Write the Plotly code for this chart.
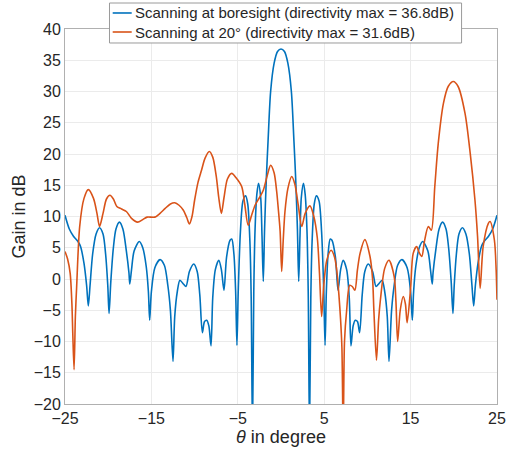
import plotly.graph_objects as go

# Boresight scan (blue)
blue_theta = [-25.0, -24.5, -24.0, -23.5, -23.2, -22.8, -22.5, -22.3, -22.1, -21.8, -21.4, -21.0,
              -20.6, -20.3, -20.05, -19.9, -19.7, -19.4, -19.1, -18.7, -18.3, -17.9, -17.6, -17.5,
              -17.3, -17.0, -16.4, -16.0, -15.6, -15.35, -15.2, -15.0, -14.6, -14.0, -13.5, -13.1,
              -12.8, -12.5, -12.3, -12.0, -11.7, -11.3, -11.0, -10.6, -10.1, -9.7, -9.4, -9.1,
              -8.85, -8.6, -8.35, -8.1, -7.9, -7.6, -7.2, -6.9, -6.6, -6.3, -5.9, -5.7,
              -5.45, -5.25, -5.1, -4.95, -4.7, -4.4, -4.1, -3.85, -3.6, -3.45, -3.3, -3.15,
              -3.0, -2.8, -2.6, -2.35, -2.2, -2.05, -1.9, -1.7, -1.5, -1.2, -0.8, -0.4, 0.0,
              0.4, 0.8, 1.2, 1.5, 1.7, 1.9, 2.05, 2.2, 2.35, 2.6, 2.8, 3.0,
              3.15, 3.3, 3.45, 3.6, 3.85, 4.1, 4.4, 4.7, 4.95, 5.1, 5.25, 5.45,
              5.7, 5.9, 6.3, 6.6, 6.9, 7.2, 7.6, 7.9, 8.1, 8.35, 8.6, 8.85,
              9.1, 9.4, 9.7, 10.1, 10.6, 11.0, 11.3, 11.7, 12.0, 12.3, 12.5, 12.8,
              13.1, 13.5, 14.0, 14.6, 15.0, 15.2, 15.35, 15.6, 16.0, 16.4, 17.0, 17.3,
              17.5, 17.6, 17.9, 18.3, 18.7, 19.1, 19.4, 19.7, 19.9, 20.05, 20.3, 20.6,
              21.0, 21.4, 21.8, 22.1, 22.3, 22.5, 22.8, 23.2, 23.5, 24.0, 24.5, 25.0]
blue_gain = [10.2, 8.0, 6.8, 6.0, 5.2, 2.5, -1.0, -4.3, -1.0, 4.0, 7.2, 8.2,
             7.2, 4.0, -1.0, -5.5, -0.5, 5.0, 8.0, 9.1, 8.0, 4.5, 1.0, -0.8,
             1.5, 4.5, 6.0, 5.0, 2.0, -2.0, -6.6, -2.0, 1.8, 3.1, 2.2, -1.0,
             -5.0, -13.2, -6.0, -2.0, -0.2, -0.8, -1.2, 1.2, 2.4, 1.2, -2.5, -8.6,
             -6.8, -6.6, -7.5, -10.7, -3.0, 1.5, 3.0, 1.5, -1.8, 3.5, 6.2, 6.4,
             4.0, -2.0, -10.6, -2.0, 7.5, 12.5, 13.3, 12.0, 6.0, -3.0, -25.0, -2.0,
             8.0, 13.5, 15.3, 13.0, 7.0, -0.4, 8.0, 16.0, 22.0, 30.0, 34.5, 36.4, 36.8,
             36.4, 34.5, 30.0, 22.0, 16.0, 8.0, -0.4, 7.0, 13.0, 15.3, 13.5, 8.0,
             -2.0, -25.0, -3.0, 6.0, 12.0, 13.3, 12.5, 7.5, -2.0, -10.6, -2.0, 4.0,
             6.4, 6.2, 3.5, -1.8, 1.5, 3.0, 1.5, -3.0, -10.7, -7.5, -6.6, -6.8,
             -8.6, -2.5, 1.2, 2.4, 1.2, -1.2, -0.8, -0.2, -2.0, -6.0, -13.2, -5.0,
             -1.0, 2.2, 3.1, 1.8, -2.0, -6.6, -2.0, 2.0, 5.0, 6.0, 4.5, 1.5,
             -0.8, 1.0, 4.5, 8.0, 9.1, 8.0, 5.0, -0.5, -5.5, -1.0, 4.0, 7.2,
             8.2, 7.2, 4.0, -1.0, -4.3, -1.0, 2.5, 5.2, 6.0, 6.8, 8.0, 10.2]

# 20 degree scan (orange)
orange_theta = [-25.0, -24.7, -24.4, -24.2, -24.1, -23.95, -23.8, -23.65, -23.3, -22.8, -22.3, -21.7,
                -21.3, -21.0, -20.6, -20.2, -19.8, -19.4, -19.0, -18.45, -17.9, -17.3, -16.6, -16.0,
                -15.5, -14.6, -14.0, -13.4, -12.8, -12.3, -11.8, -11.3, -10.9, -10.6, -10.3, -10.0,
                -9.6, -9.2, -8.8, -8.3, -7.9, -7.5, -7.2, -6.9, -6.6, -6.2, -5.7, -5.2,
                -4.55, -4.2, -3.8, -3.4, -3.0, -2.5, -2.05, -1.6, -1.2, -0.8, -0.5, -0.3,
                -0.1, 0.08, 0.25, 0.46, 0.8, 1.24, 1.6, 2.0, 2.4, 2.8, 3.35, 3.8,
                4.2, 4.45, 4.7, 4.95, 5.3, 5.8, 6.2, 6.45, 6.7, 6.9, 7.05, 7.2,
                7.35, 7.6, 7.95, 8.25, 8.55, 8.85, 9.15, 9.7, 10.3, 10.6, 10.75, 11.05,
                11.3, 11.5, 12.0, 12.5, 13.1, 13.3, 13.5, 13.8, 14.15, 14.4, 14.6, 15.0,
                15.3, 15.7, 16.0, 16.3, 16.6, 17.05, 17.4, 17.8, 18.2, 18.8, 19.35, 19.95,
                20.5, 21.3, 21.9, 22.45, 22.75, 23.05, 23.4, 24.0, 24.2, 24.7, 24.9, 25.0]
orange_gain = [4.4, 3.2, 0.9, -4.0, -8.7, -14.5, -6.0, -1.2, 8.4, 12.9, 14.3, 12.9,
               10.5, 8.4, 10.5, 12.8, 13.4, 12.8, 11.6, 11.2, 10.8, 9.7, 9.1, 9.5,
               9.9, 9.9, 10.5, 11.3, 12.0, 12.2, 11.8, 11.0, 9.8, 8.8, 10.0, 12.6,
               15.5, 17.4, 19.3, 20.4, 19.5, 16.5, 13.0, 10.5, 13.0, 16.0, 16.9, 16.2,
               14.8, 12.0, 8.6, 10.2, 11.8, 13.0, 14.2, 16.5, 18.2, 17.0, 14.0, 11.0,
               7.6, 1.2, 6.0, 10.8, 14.5, 16.4, 15.2, 11.8, 8.4, 10.5, 11.7, 10.0,
               6.6, 1.0, -6.0, -1.0, 3.0, 4.6, 3.5, 1.4, -2.5, -6.6, -11.0, -25.0,
               -10.0, -5.0, -1.0, -1.2, -1.8, 1.5, 4.1, 6.3, 3.6, 0.0, -5.0, -13.0,
               -6.5, -3.4, 1.7, 3.0, 0.4, -3.5, -10.0, -5.0, -2.8, -4.0, -7.0, -1.5,
               4.1, 5.2, 4.2, 3.6, 6.0, 8.4, 7.8, 14.8, 21.7, 28.1, 30.8, 31.6,
               30.8, 26.5, 20.1, 12.6, 6.8, -1.5, 5.2, 8.9, 9.2, 6.2, 1.5, -3.3]

series_names = ["Scanning at boresight (directivity max = 36.8dB)",
                "Scanning at 20° (directivity max = 31.6dB)"]
series_colors = ["#0072BD", "#D95319"]

x_ticks = [-25, -15, -5, 5, 15, 25]
y_ticks = [-20, -15, -10, -5, 0, 5, 10, 15, 20, 25, 30, 35, 40]

fig = go.Figure()
for xs, ys, name, col in [(blue_theta, blue_gain, series_names[0], series_colors[0]),
                          (orange_theta, orange_gain, series_names[1], series_colors[1])]:
    fig.add_trace(go.Scatter(x=xs, y=ys, mode="lines", name=name, showlegend=False,
                             line=dict(color=col, width=1.6, shape="spline", smoothing=0.8)))

# MATLAB-style legend box (drawn as shapes + text so its padding matches)
leg_x0, leg_x1, leg_y0, leg_y1 = 0.103, 0.918, 0.9627, 1.0693
row_y = [1.0427, 0.992]
shapes = [dict(type="rect", xref="paper", yref="paper", x0=leg_x0, x1=leg_x1, y0=leg_y0, y1=leg_y1,
               fillcolor="white", line=dict(color="#9a9a9a", width=1), layer="above")]
annotations = []
for ry, name, col in zip(row_y, series_names, series_colors):
    shapes.append(dict(type="line", xref="paper", yref="paper", x0=0.1104, x1=0.1544, y0=ry, y1=ry,
                       line=dict(color=col, width=1.6), layer="above"))
    annotations.append(dict(xref="paper", yref="paper", x=0.1575, y=ry, xanchor="left", yanchor="middle",
                            text=name, showarrow=False,
                            font=dict(family="Liberation Sans, Arial", size=15, color="#262626")))

axis_common = dict(showgrid=True, gridcolor="#ebebeb", gridwidth=1, zeroline=False,
                   showline=True, linecolor="#b0b0b0", linewidth=1, mirror=True,
                   ticks="", tickfont=dict(family="Liberation Sans, Arial", size=16, color="#262626"))

fig.update_layout(
    width=510, height=455,
    margin=dict(l=65, r=13, t=29, b=51, autoexpand=False),
    paper_bgcolor="white", plot_bgcolor="white",
    font=dict(family="Liberation Sans, Arial", color="#262626"),
    xaxis=dict(range=[-25, 25], tickvals=x_ticks,
               title=dict(text="<i>θ</i> in degree", font=dict(size=18), standoff=2),
               **axis_common),
    yaxis=dict(range=[-20, 40], tickvals=y_ticks,
               title=dict(text="Gain in dB", font=dict(size=18), standoff=3),
               **axis_common),
    shapes=shapes,
    annotations=annotations,
    showlegend=False,
)

fig.write_html("out.html", config={"displayModeBar": False},
               post_script="document.body.style.margin='0';")
